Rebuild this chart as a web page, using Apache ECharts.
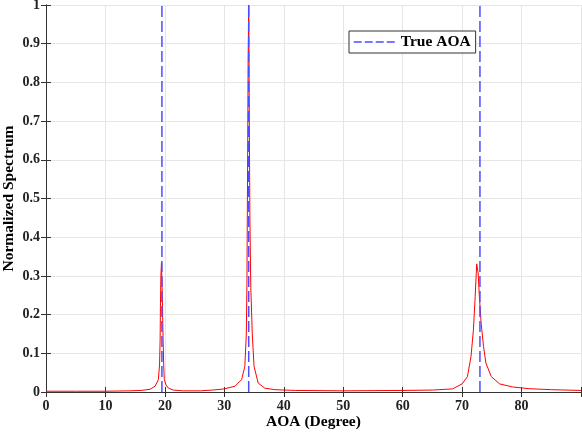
<!DOCTYPE html>
<html><head><meta charset="utf-8">
<script src="https://cdn.jsdelivr.net/npm/echarts@6/dist/echarts.min.js"></script>
<style>html,body{margin:0;padding:0;background:#fff}#c{width:582px;height:436px}</style>
</head><body><div id="c"></div>
<script>
// Red spectrum (AOA in degrees, normalized value)
const spectrumX = [0,5,10,14,16,17.5,18.35,18.9,19.1,19.2,19.25,19.33,19.42,19.5,19.6,19.7,19.8,19.9,20.2,20.6,21.4,23,26,28,30,31.8,32.9,33.45,33.7,33.8,33.9,34.0,34.1,34.2,34.3,34.45,34.7,35.0,35.7,36.8,38.5,42,50,60,65,68.4,70.0,70.9,71.5,71.9,72.2,72.45,72.7,72.9,73.2,73.6,74.0,74.9,76.3,78.5,81.3,85,90];
const spectrumY = [0.002,0.002,0.002,0.003,0.004,0.007,0.015,0.032,0.07,0.135,0.22,0.3,0.333,0.29,0.22,0.135,0.07,0.032,0.018,0.01,0.005,0.003,0.003,0.005,0.008,0.015,0.032,0.066,0.15,0.28,0.55,0.85,1.0,0.7,0.45,0.27,0.15,0.066,0.023,0.010,0.006,0.004,0.003,0.004,0.005,0.008,0.021,0.04,0.092,0.16,0.247,0.331,0.307,0.247,0.178,0.118,0.075,0.04,0.021,0.013,0.0085,0.006,0.004];
// True AOA positions
const trueAOA = [19.5, 34.1, 73];
const xTicks = [0,10,20,30,40,50,60,70,80];
const yTickLabels = ['0','0.1','0.2','0.3','0.4','0.5','0.6','0.7','0.8','0.9','1'];

const font = 'Liberation Serif';
const frame = '#333333';
const chart = echarts.init(document.getElementById('c'));
const series = [{
  name: 'Spectrum', type: 'line', showSymbol: false, symbol: 'none',
  data: spectrumX.map((x, i) => [x, spectrumY[i]]),
  lineStyle: { color: '#ff0000', width: 1 }, itemStyle: { color: '#ff0000' },
  z: 2, silent: true, animation: false
}];
trueAOA.forEach(a => series.push({
  name: 'True AOA', type: 'line', symbol: 'none', showSymbol: false,
  data: [[a, 0], [a, 1]],
  lineStyle: { color: '#4d4dff', width: 1.5, type: [11, 4] }, itemStyle: { color: '#4d4dff' },
  z: 3, silent: true, animation: false
}));
const axisCommon = {
  axisLine: { show: true, lineStyle: { color: frame, width: 1 } },
  axisTick: { show: true, inside: true, length: 5, lineStyle: { color: frame } }
};
const titleStyle = { fontFamily: font, fontWeight: 'bold', fontSize: 15.5, color: '#000' };
const labelStyle = { fontFamily: font, fontWeight: 'bold', fontSize: 14, color: '#222' };
chart.setOption({
  animation: false,
  backgroundColor: '#fff',
  grid: { left: 46, right: 1, top: 5, bottom: 44, containLabel: false, outerBoundsMode: 'none' },
  legend: {
    data: ['True AOA'], left: 349, top: 31, orient: 'vertical',
    itemWidth: 42, itemHeight: 12, padding: [3, 5, 3, 4],
    itemStyle: { opacity: 0 },
    lineStyle: { type: [8, 3], width: 1.5 },
    borderColor: frame, borderWidth: 1, backgroundColor: '#fff',
    textStyle: titleStyle
  },
  xAxis: [{
    type: 'value', min: 0, max: 90, interval: 10, position: 'bottom',
    name: 'AOA (Degree)', nameLocation: 'middle', nameGap: 22, nameMoveOverlap: false,
    nameTextStyle: titleStyle,
    axisLabel: Object.assign({ margin: 7, formatter: v => xTicks.includes(v) ? String(v) : '' }, labelStyle),
    splitLine: { show: true, lineStyle: { color: '#e6e6e6', width: 1 } },
    ...axisCommon
  }, {
    type: 'value', min: 0, max: 90, interval: 10, position: 'top',
    axisLabel: { show: false }, splitLine: { show: false }, ...axisCommon
  }],
  yAxis: [{
    type: 'value', min: 0, max: 1, interval: 0.1, position: 'left',
    name: 'Normalized Spectrum', nameLocation: 'middle', nameGap: 29, nameMoveOverlap: false,
    nameTextStyle: titleStyle,
    axisLabel: Object.assign({ margin: 6, formatter: v => yTickLabels[Math.round(v * 10)] }, labelStyle),
    splitLine: { show: true, lineStyle: { color: '#e6e6e6', width: 1 } },
    ...axisCommon
  }, {
    type: 'value', min: 0, max: 1, interval: 0.1, position: 'right',
    axisLabel: { show: false }, splitLine: { show: false }, ...axisCommon
  }],
  series: series
});
</script></body></html>
